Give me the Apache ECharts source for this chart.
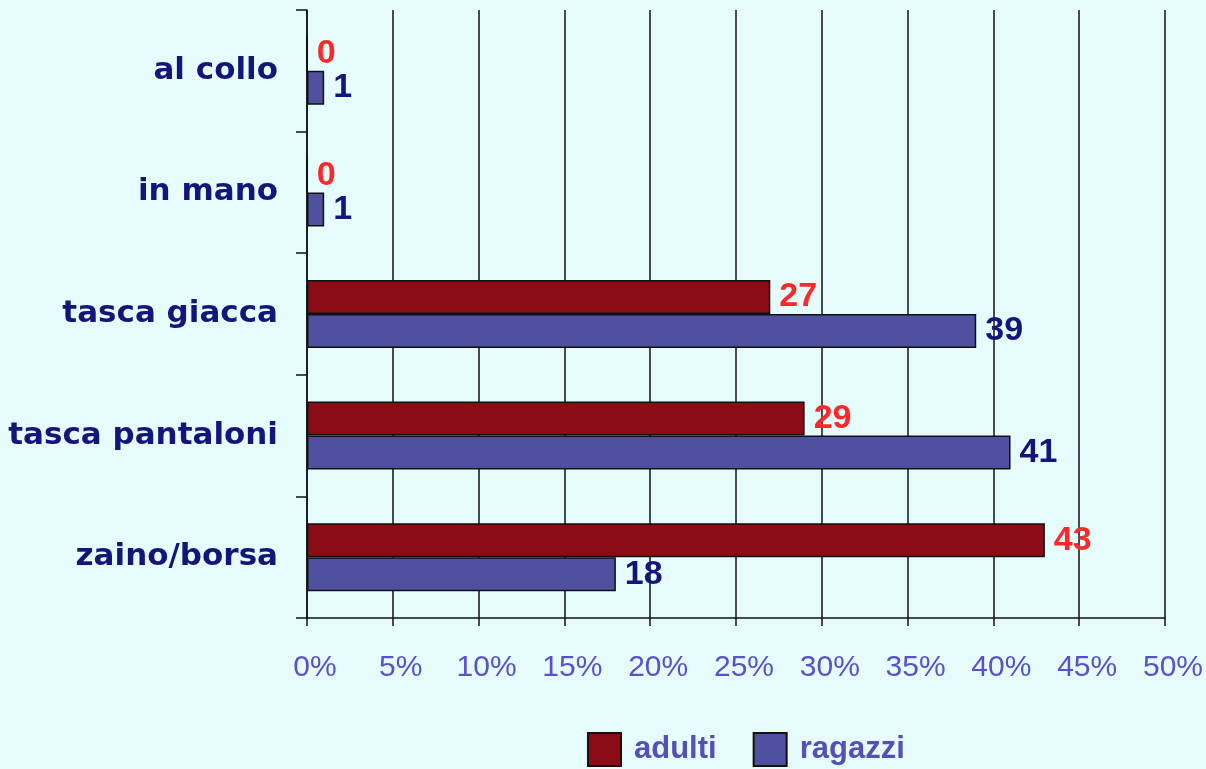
<!DOCTYPE html>
<html>
<head>
<meta charset="utf-8">
<script src="https://cdn.jsdelivr.net/npm/echarts@6/dist/echarts.min.js"></script>
<style>
  html, body { margin: 0; padding: 0; background: #e6fcfc; }
  #chart { width: 1206px; height: 769px; }
</style>
</head>
<body>
<div id="chart"></div>
<script>
// categories from bottom to top (category axis starts at the bottom)
const categories = ['zaino/borsa', 'tasca pantaloni', 'tasca giacca', 'in mano', 'al collo'];
const adulti = [43, 29, 27, 0, 0];
const ragazzi = [18, 41, 39, 1, 1];
const xTicks = [0, 5, 10, 15, 20, 25, 30, 35, 40, 45, 50];

const chart = echarts.init(document.getElementById('chart'));

const option = {
  backgroundColor: '#e6fcfc',
  animation: false,
  grid: {
    left: 307,
    right: 40,
    top: 10,
    bottom: 151
  },
  legend: {
    bottom: -3,
    left: 582,
    itemWidth: 33,
    itemHeight: 33,
    itemGap: 36,
    icon: 'rect',
    textStyle: {
      color: '#5550b5',
      fontSize: 31,
      fontWeight: 'bold',
      fontFamily: 'Liberation Sans',
      padding: [0, 0, 0, 8]
    },
    data: ['adulti', 'ragazzi']
  },
  xAxis: {
    type: 'value',
    min: xTicks[0],
    max: xTicks[xTicks.length - 1],
    interval: 5,
    axisLine: { show: true, lineStyle: { color: '#111', width: 1.5 } },
    axisTick: { show: true, length: 8, lineStyle: { color: '#111', width: 1.5 } },
    splitLine: { show: true, lineStyle: { color: '#111', width: 1.5 } },
    axisLabel: {
      margin: 35,
      padding: [0, 0, 0, 16],
      color: '#5a50c8',
      fontSize: 30,
      fontFamily: 'Liberation Sans',
      formatter: (v) => v + '%'
    }
  },
  yAxis: {
    type: 'category',
    data: categories,
    axisLine: { show: true, lineStyle: { color: '#111', width: 1.5 } },
    axisTick: { show: true, length: 11, lineStyle: { color: '#111', width: 1.5 } },
    axisLabel: {
      margin: 29,
      color: '#14147a',
      fontSize: 31,
      fontWeight: 'bold',
      fontFamily: 'DejaVu Sans'
    }
  },
  series: [
    {
      name: 'adulti',
      type: 'bar',
      data: adulti,
      barWidth: 34,
      barGap: '0%',
      itemStyle: { color: '#8b0c14', borderColor: '#111', borderWidth: 1.5 },
      label: {
        show: true,
        position: 'right',
        distance: 9,
        color: '#ff2828',
        fontSize: 34,
        fontWeight: 'bold',
        fontFamily: 'Liberation Sans'
      }
    },
    {
      name: 'ragazzi',
      type: 'bar',
      data: ragazzi,
      barWidth: 34,
      barGap: '0%',
      itemStyle: { color: '#5050a0', borderColor: '#111', borderWidth: 1.5 },
      label: {
        show: true,
        position: 'right',
        distance: 9,
        color: '#14147a',
        fontSize: 34,
        fontWeight: 'bold',
        fontFamily: 'Liberation Sans'
      }
    }
  ]
};

chart.setOption(option);
</script>
</body>
</html>
